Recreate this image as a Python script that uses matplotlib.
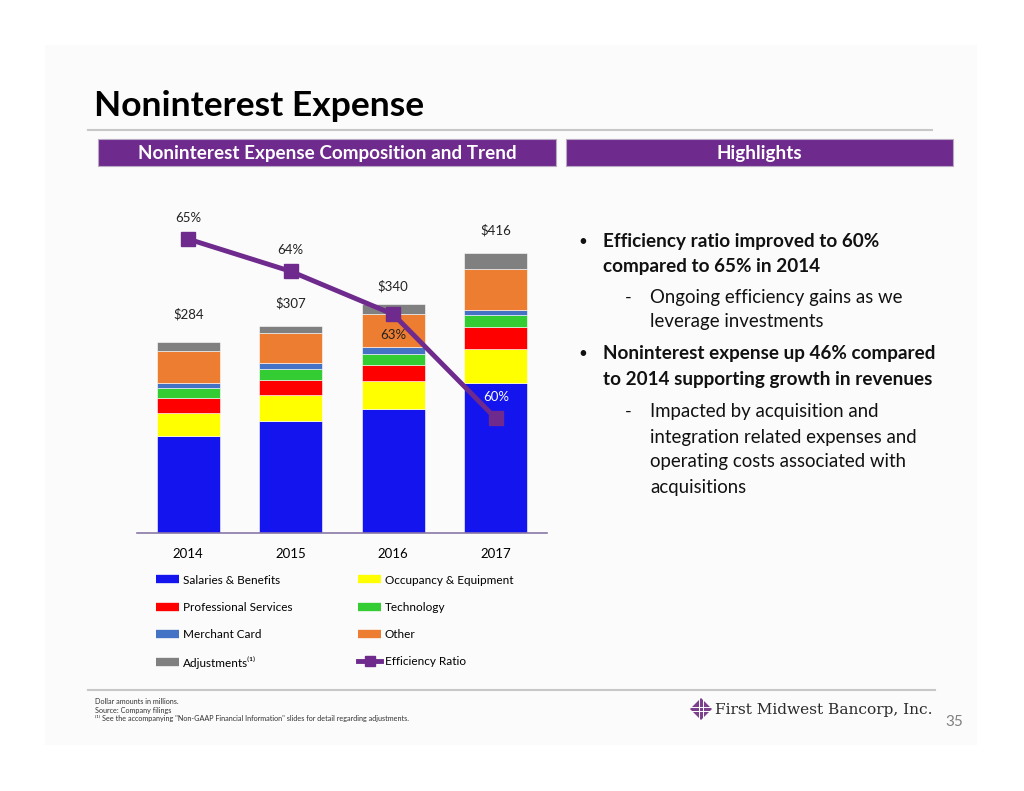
import matplotlib
matplotlib.use("Agg")
import numpy as np
import matplotlib.pyplot as plt
from matplotlib.patches import Rectangle, Polygon
from matplotlib.lines import Line2D

plt.rcParams["font.family"] = ["Lato", "DejaVu Sans"]

# data (dollar amounts in millions)
years = ["2014", "2015", "2016", "2017"]
salaries = [144, 166, 184, 223]
occupancy = [35, 39, 42, 50]
professional = [22, 23, 24, 33]
technology = [14, 16, 16, 18]
merchant = [8, 9, 11, 8]
other = [47, 44, 48, 60]
adjustments = [14, 10, 15, 24]
efficiency = [65.0, 64.1, 62.9, 60.0]

series = [
    ("Salaries & Benefits", salaries, "#1414ee"),
    ("Occupancy & Equipment", occupancy, "#ffff00"),
    ("Professional Services", professional, "#ff0000"),
    ("Technology", technology, "#33cc33"),
    ("Merchant Card", merchant, "#4472c4"),
    ("Other", other, "#ed7d31"),
    ("Adjustments\u207d\u00b9\u207e", adjustments, "#808080"),
]
PURPLE = "#6e2a8c"

W, H = 1024, 791


def fx(x):
    return x / W


def fy(y):
    return 1 - y / H


fig = plt.figure(figsize=(W / 100, H / 100), dpi=100)
fig.patches.append(Rectangle((fx(45), fy(745)), fx(932), (700) / H,
                             transform=fig.transFigure, facecolor="#fbfbfb",
                             edgecolor="none", zorder=-5))

# title and rules
fig.text(fx(94), fy(106), "Noninterest Expense", fontsize=25.5, fontweight="bold",
         va="center", ha="left", color="black")
fig.add_artist(Line2D([fx(88), fx(932)], [fy(130), fy(130)], color="#c8c8c8", lw=1.5))
fig.add_artist(Line2D([fx(88), fx(935)], [fy(690), fy(690)], color="#c8c8c8", lw=1.5))

# header bars
for x0, x1, txt in [(98, 556, "Noninterest Expense Composition and Trend"),
                    (566, 953, "Highlights")]:
    fig.patches.append(Rectangle((fx(x0), fy(166)), fx(x1 - x0), 27 / H,
                                 transform=fig.transFigure, facecolor=PURPLE,
                                 edgecolor="#b9a9c4", lw=0.8))
    fig.text(fx((x0 + x1) / 2), fy(153), txt, color="white", fontsize=13.6,
             fontweight="bold", ha="center", va="center")

# chart
ax = fig.add_axes([fx(137), fy(533), fx(410), 333 / H])
ax.set_facecolor("none")
x = np.arange(len(years))
bottom = np.zeros(len(years))
for name, vals, col in series:
    ax.bar(x, vals, 0.61, bottom=bottom, color=col, edgecolor="white", lw=0.4,
           label=name, zorder=2)
    bottom += np.array(vals)
ax.set_xlim(-0.5, 3.5)
ax.set_ylim(0, 495)
ax.set_xticks(x)
ax.set_xticklabels(years, fontsize=9.5)
ax.tick_params(axis="x", length=0, pad=11)
ax.set_yticks([])
for s in ["top", "left", "right"]:
    ax.spines[s].set_visible(False)
ax.spines["bottom"].set_color("#8a78a8")
ax.spines["bottom"].set_linewidth(1.2)

total_off = [20, 16.5, 13, 16.5]
for i, t in enumerate(bottom):
    ax.annotate("$%d" % t, (x[i], t), xytext=(0, total_off[i]),
                textcoords="offset points", ha="center", va="center",
                fontsize=9.5, color="#222222", annotation_clip=False)

ax2 = ax.twinx()
ax2.set_facecolor("none")
ax2.set_ylim(56.8, 66.09)
ax2.plot(x, efficiency, color=PURPLE, lw=3.5, marker="s", markersize=10,
         label="Efficiency Ratio", zorder=3)
ax2.set_yticks([])
for s in ax2.spines.values():
    s.set_visible(False)
eff_off = [15, 15, -15, 15]
eff_col = ["#222222", "#222222", "#222222", "white"]
for i, v in enumerate(efficiency):
    ax2.annotate("%d%%" % round(v), (x[i], v), xytext=(0, eff_off[i]),
                 textcoords="offset points", ha="center", va="center",
                 fontsize=9.5, color=eff_col[i], annotation_clip=False)

# legend (two columns, row-major order like the slide)
handles = [Line2D([], [], color=c, lw=6, solid_capstyle="butt") for _, _, c in series]
handles.append(Line2D([], [], color=PURPLE, lw=3.5, marker="s", markersize=7))
labels = [n for n, _, _ in series] + ["Efficiency Ratio"]
order = [0, 2, 4, 6, 1, 3, 5, 7]
fig.legend([handles[i] for i in order], [labels[i] for i in order],
           loc="upper left", bbox_to_anchor=(fx(145), fy(564)), ncol=2,
           frameon=False, fontsize=8.5, handlelength=2.0, handletextpad=0.3,
           labelspacing=1.36, columnspacing=5.55)

# highlights
bx, tx, dx, sx = 578, 603, 625, 650
bold_lines = [(242, "Efficiency ratio improved to 60%"), (266, "compared to 65% in 2014"),
              (354, "Noninterest expense up 46% compared"),
              (379, "to 2014 supporting growth in revenues")]
reg_lines = [(298, "Ongoing efficiency gains as we"), (322, "leverage investments"),
             (412, "Impacted by acquisition and"),
             (437, "integration related expenses and"),
             (462, "operating costs associated with"), (487, "acquisitions")]
for y, t in bold_lines:
    fig.text(fx(tx), fy(y), t, fontsize=13.6, fontweight="bold", va="center", color="#111111")
for y, t in reg_lines:
    fig.text(fx(sx), fy(y), t, fontsize=13.4, va="center", color="#111111")
for y in (242, 354):
    fig.text(fx(bx), fy(y), "\u2022", fontsize=11, va="center", color="#111111")
for y in (298, 412):
    fig.text(fx(dx), fy(y), "-", fontsize=13, va="center", color="#111111")

# footnotes
notes = ["Dollar amounts in millions.", "Source: Company filings",
         "\u207d\u00b9\u207e See the accompanying \"Non-GAAP Financial Information\" slides for detail regarding adjustments."]
for i, t in enumerate(notes):
    fig.text(fx(95), fy(701 + 9 * i), t, fontsize=5.2, va="center", color="#333333")

# logo
cxl, cyl = 701, 709
fig.patches.append(Polygon([(fx(cxl - 11), fy(cyl)), (fx(cxl), fy(cyl - 11)),
                            (fx(cxl + 11), fy(cyl)), (fx(cxl), fy(cyl + 11))],
                           closed=True, transform=fig.transFigure,
                           facecolor="#7b3f8c", edgecolor="none"))
for d in (-2, 2):
    fig.add_artist(Line2D([fx(cxl - 11), fx(cxl + 11)], [fy(cyl + d), fy(cyl + d)],
                          color="white", lw=0.7))
    fig.add_artist(Line2D([fx(cxl + d), fx(cxl + d)], [fy(cyl - 11), fy(cyl + 11)],
                          color="white", lw=0.7))
fig.text(fx(715), fy(710), "First Midwest Bancorp, Inc.", family="DejaVu Serif",
         fontsize=11.1, va="center", color="#2b2b2b")
fig.text(fx(954), fy(722), "35", fontsize=11, ha="center", va="center", color="#808080")

fig.savefig("out.png", dpi=100)
